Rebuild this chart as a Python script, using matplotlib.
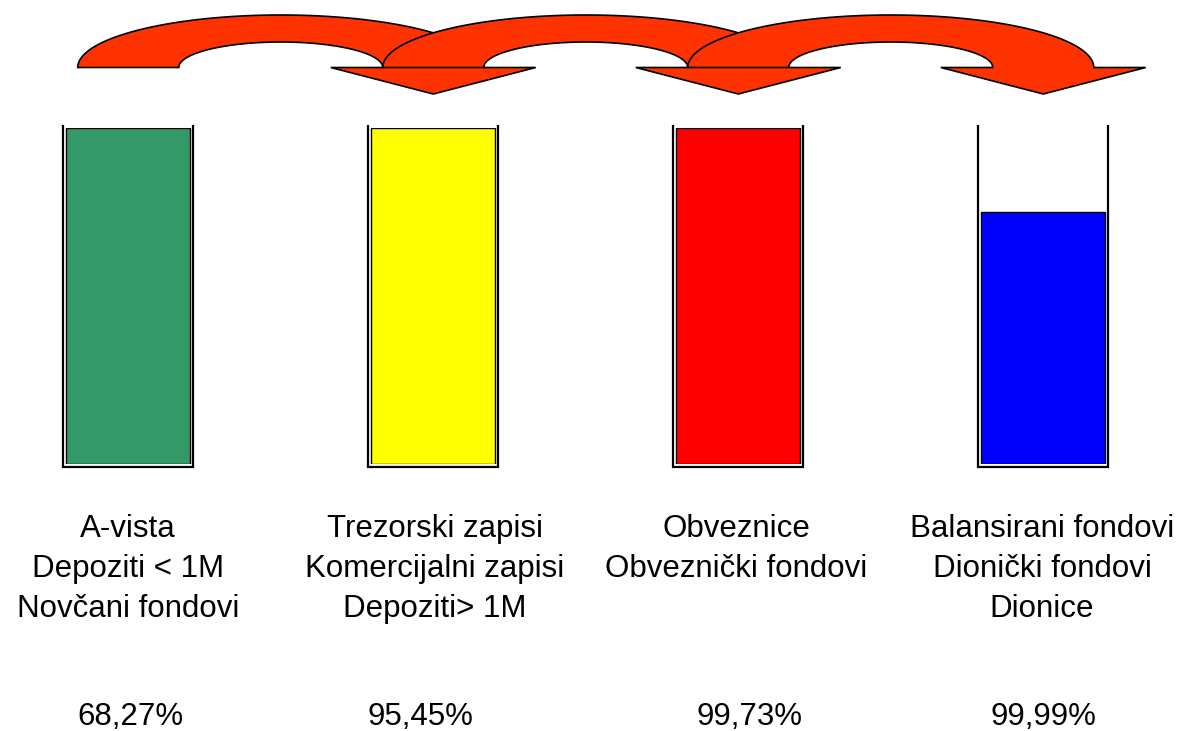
import numpy as np
import matplotlib
matplotlib.use("Agg")
import matplotlib.pyplot as plt
from matplotlib.patches import Polygon

# ---- data ----
categories = [
    ["A-vista", "Depoziti < 1M", "Novčani fondovi"],
    ["Trezorski zapisi", "Komercijalni zapisi", "Depoziti> 1M"],
    ["Obveznice", "Obveznički fondovi"],
    ["Balansirani fondovi", "Dionički fondovi", "Dionice"],
]
fill_levels = [100, 100, 100, 75]          # how full each container is (%)
percent_labels = ["68,27%", "95,45%", "99,73%", "99,99%"]
bar_colors = ["#339966", "#FFFF00", "#FF0000", "#0000FF"]
arrow_color = "#FF3300"

# ---- layout (pixels) ----
W, H = 1184, 731
px0, pitch = 128.25, 305.0       # container centre of first slot, spacing
fill_top_px, fill_bot_px = 128, 464
fill_w_px, box_w_px = 124, 130
plt.rcParams['font.family'] = ['Liberation Sans', 'DejaVu Sans']

fig = plt.figure(figsize=(W / 100, H / 100), dpi=100)
bg = fig.add_axes([0, 0, 1, 1])
bg.set_xlim(0, W)
bg.set_ylim(H, 0)
bg.axis("off")

# ---- containers and fills ----
ax = fig.add_axes([0, (H - fill_bot_px) / H, 1, (fill_bot_px - fill_top_px) / H])
ax.set_xlim((0 - px0) / pitch, (W - px0) / pitch)
ax.set_ylim(0, 100)
ax.axis("off")
idx = np.arange(len(fill_levels))
ax.bar(idx, fill_levels, width=fill_w_px / pitch, bottom=0, align="center",
       color=bar_colors, edgecolor="black", linewidth=1.0, zorder=2)
unit = 100 / (fill_bot_px - fill_top_px)
hw = box_w_px / 2 / pitch
for i in idx:
    ax.plot([i - hw, i - hw, i + hw, i + hw],
            [100 + 3 * unit, -3 * unit, -3 * unit, 100 + 3 * unit],
            color="black", lw=1.6, clip_on=False, zorder=3,
            solid_joinstyle="miter", solid_capstyle="butt")

# ---- curved arrows between containers ----
base_y, tip_y = 67.5, 94
a_out, a_in = 203, 102
top_out, top_in = 15, 42
head_hw = 102.5
t = np.linspace(np.pi, 0, 200)
for i in range(len(fill_levels) - 1):
    c = px0 + pitch * i + pitch / 2
    hc = px0 + pitch * (i + 1)
    outer = np.column_stack([c + a_out * np.cos(t), base_y - (base_y - top_out) * np.sin(t)])
    inner = np.column_stack([c + a_in * np.cos(t[::-1]), base_y - (base_y - top_in) * np.sin(t[::-1])])
    head = np.array([[hc + head_hw, base_y], [hc, tip_y], [hc - head_hw, base_y]])
    pts = np.vstack([outer, head, inner])
    bg.add_patch(Polygon(pts, closed=True, facecolor=arrow_color, edgecolor="black",
                         linewidth=1.2, joinstyle="miter", zorder=5 + i))

# ---- text ----
label_x = [128, 435, 736, 1042]
line_base = [537, 577, 617]
for x, lines in zip(label_x, categories):
    for y, s in zip(line_base, lines):
        bg.text(x, y, s, ha="center", va="baseline", fontsize=22.5, color="black")
pct_x = [130, 420, 750, 1043]
for x, s in zip(pct_x, percent_labels):
    bg.text(x, 725, s, ha="center", va="baseline", fontsize=22.5, color="black")

fig.savefig("out.png", dpi=100)
